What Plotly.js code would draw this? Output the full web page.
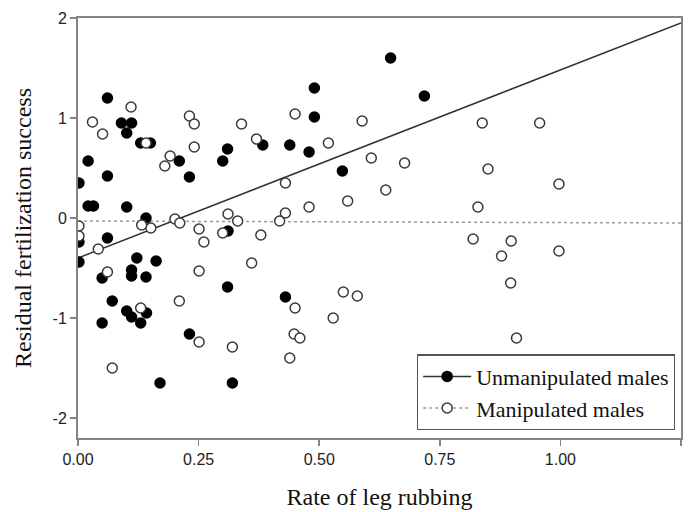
<!DOCTYPE html>
<html>
<head>
<meta charset="utf-8">
<script src="https://cdn.plot.ly/plotly-3.0.1.min.js"></script>
<style>html,body{margin:0;padding:0;background:#fff;}#chart{width:696px;height:512px;}</style>
</head>
<body>
<div id="chart"></div>
<script>
// Unmanipulated males (filled circles)
const unmanipX = [0.061,0.090,0.111,0.101,0.130,0.150,0.021,0.061,0.002,0.021,0.032,0.101,0.210,0.231,0.300,0.310,0.383,0.141,
  0.002,0.002,0.061,0.122,0.162,0.111,0.111,0.141,0.050,0.071,0.101,0.111,0.142,0.130,0.050,0.170,0.311,0.310,0.231,0.320,
  0.439,0.479,0.490,0.490,0.548,0.648,0.718,0.430];
const unmanipY = [1.20,0.95,0.95,0.85,0.75,0.75,0.57,0.42,0.35,0.12,0.12,0.11,0.57,0.41,0.57,0.69,0.73,0.00,
  -0.24,-0.44,-0.20,-0.40,-0.43,-0.52,-0.58,-0.59,-0.60,-0.83,-0.93,-0.99,-0.95,-1.05,-1.05,-1.65,-0.13,-0.69,-1.16,-1.65,
  0.73,0.66,1.30,1.01,0.47,1.60,1.22,-0.79];

// Manipulated males (open circles)
const manipX = [0.030,0.051,0.110,0.141,0.191,0.180,0.231,0.241,0.241,0.339,0.370,0.002,0.002,0.042,0.061,0.130,0.071,
  0.151,0.132,0.201,0.211,0.210,0.251,0.261,0.251,0.300,0.311,0.331,0.379,0.360,0.251,0.320,0.418,0.430,0.479,0.559,
  0.450,0.519,0.589,0.608,0.677,0.430,0.638,0.838,0.957,0.850,0.997,0.829,0.450,0.448,0.460,0.439,0.550,0.579,0.529,
  0.819,0.898,0.878,0.997,0.897,0.909];
const manipY = [0.96,0.84,1.11,0.75,0.62,0.52,1.02,0.94,0.71,0.94,0.79,-0.08,-0.18,-0.31,-0.54,-0.90,-1.50,
  -0.10,-0.07,-0.01,-0.05,-0.83,-0.11,-0.24,-0.53,-0.15,0.04,-0.03,-0.17,-0.45,-1.24,-1.29,-0.03,0.05,0.11,0.17,
  1.04,0.75,0.97,0.60,0.55,0.35,0.28,0.95,0.95,0.49,0.34,0.11,-0.90,-1.16,-1.20,-1.40,-0.74,-0.78,-1.00,
  -0.21,-0.23,-0.38,-0.33,-0.65,-1.20];

// Fitted regression lines
const fitX = [0, 1.25];
const fitUnmanipY = [-0.40, 1.95];
const fitManipY = [-0.03, -0.05];

// Axis ticks
const xTicks = [0, 0.25, 0.5, 0.75, 1.0, 1.25];
const xTickLabels = ["0.00", "0.25", "0.50", "0.75", "1.00", "1.25"];
const yTicks = [-2, -1, 0, 1, 2];
const yTickLabels = ["-2", "-1", "0", "1", "2"];

const names = ["Unmanipulated males", "Manipulated males"];

const axisColor = "#8a8280";
const serif = "'Liberation Serif', 'Times New Roman', serif";
const sans = "'Liberation Sans', Arial, sans-serif";

const traces = [
  {x: fitX, y: fitUnmanipY, mode: "lines", line: {color: "#333", width: 1.5}, showlegend: false, hoverinfo: "skip"},
  {x: fitX, y: fitManipY, mode: "lines", line: {color: "#9a9a9a", width: 1.5, dash: "dot"}, showlegend: false, hoverinfo: "skip"},
  {x: unmanipX, y: unmanipY, mode: "markers", marker: {symbol: "circle", size: 11.5, color: "#000", line: {width: 0}}, showlegend: false},
  {x: manipX, y: manipY, mode: "markers", marker: {symbol: "circle", size: 10, color: "#fff", line: {color: "#3a3a3a", width: 1.5}}, showlegend: false},
  // legend entries
  {x: [null], y: [null], name: names[0], mode: "lines+markers", marker: {size: 11.5, color: "#000"}, line: {color: "#333", width: 1.5}},
  {x: [null], y: [null], name: names[1], mode: "lines+markers", marker: {size: 10, color: "#fff", line: {color: "#3a3a3a", width: 1.5}}, line: {color: "#9a9a9a", width: 1.5, dash: "dot"}}
];

const layout = {
  width: 696, height: 512,
  margin: {l: 78, r: 15, t: 18, b: 74},
  paper_bgcolor: "#fff", plot_bgcolor: "#fff",
  showlegend: true,
  legend: {
    x: 0.99, xanchor: "right", y: 0.018, yanchor: "bottom",
    bgcolor: "#fff", bordercolor: "#555", borderwidth: 1.2,
    font: {family: serif, size: 22, color: "#111"},
    itemwidth: 48, tracegroupgap: 0
  },
  xaxis: {
    range: [0, 1.25], tickvals: xTicks, ticktext: xTickLabels,
    showgrid: false, zeroline: false,
    showline: true, linecolor: axisColor, linewidth: 2, mirror: true,
    ticks: "outside", ticklen: 6, tickwidth: 1.5, tickcolor: axisColor,
    tickfont: {family: sans, size: 16, color: "#222"},
    title: {text: "Rate of leg rubbing", font: {family: serif, size: 24, color: "#111"}, standoff: 21}
  },
  yaxis: {
    range: [-2.2, 2], tickvals: yTicks, ticktext: yTickLabels,
    showgrid: false, zeroline: false,
    showline: true, linecolor: axisColor, linewidth: 2, mirror: true,
    ticks: "outside", ticklen: 6, tickwidth: 1.5, tickcolor: axisColor,
    tickfont: {family: sans, size: 16, color: "#222"},
    title: {text: "Residual fertilization success", font: {family: serif, size: 24, color: "#111"}, standoff: 14}
  }
};

Plotly.newPlot("chart", traces, layout, {displayModeBar: false, staticPlot: true});
</script>
</body>
</html>
